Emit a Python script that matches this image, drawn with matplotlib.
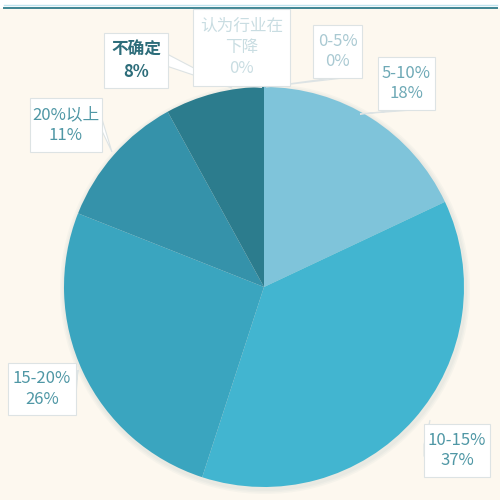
import numpy as np
import matplotlib.pyplot as plt
from matplotlib.patches import Rectangle, Polygon

plt.rcParams['font.family'] = ['Noto Sans CJK SC', 'DejaVu Sans']

# slices, clockwise from 12 o'clock
labels = ['0-5%', '5-10%', '10-15%', '15-20%', '20%以上', '不确定', '认为行业在\n下降']
values = [0, 18, 37, 26, 11, 8, 0]
colors = ['#7fc4da', '#7fc4da', '#42b5d0', '#3aa5bf', '#3592aa', '#2c7c8d', '#2c7c8d']

# label boxes (pixel coords: x0, y0, x1, y1), text colour, pointer tip
boxes = [(313, 25, 362, 78), (378, 57, 435, 110), (424, 424, 490, 477),
         (8, 363, 76, 415), (30, 98, 102, 152), (104, 33, 168, 88), (193, 9, 290, 86)]
text_colors = ['#a9c9d2', '#6ea9b6', '#4f97a5', '#4f97a5', '#4f97a5', '#2d6d7a', '#c9dde2']
tips = [(266, 87), (360, 114), (430, 420), (78, 370), (112, 152), (232, 88), (262, 87)]

H = 500
fig = plt.figure(figsize=(5, 5), dpi=100)
fig.patch.set_facecolor('#fdf8ef')
ax = fig.add_axes([0, 0, 1, 1])
ax.set_xlim(0, 500)
ax.set_ylim(0, 500)
ax.set_aspect('equal')
ax.axis('off')

# white strip and rule at top
ax.add_patch(Rectangle((0, H - 8), 500, 8, facecolor='white', edgecolor='none'))
ax.plot([4, 497], [H - 5, H - 5], color='#bfe3ee', lw=1)
ax.plot([4, 497], [H - 8, H - 8], color='#3e8593', lw=1.4)

cx, cy, r = 264, H - 287, 200
# soft shadow
for k in range(3):
    ax.add_patch(plt.Circle((cx + 1, cy - 2), r + 2 + k * 1.5, color='#7a9aa0', alpha=0.05, lw=0))
ax.pie(values, colors=colors, startangle=90, counterclock=False, center=(cx, cy),
       radius=r, wedgeprops=dict(linewidth=0), frame=True)
ax.set_xlim(0, 500)
ax.set_ylim(0, 500)
ax.axis('off')

for lab, v, (x0, y0, x1, y1), tc, (tx, ty) in zip(labels, values, boxes, text_colors, tips):
    # pointer
    mx = (x0 + x1) / 2
    by = y1 if ty > y1 else (y0 + y1) / 2
    bx = mx if ty > y1 else (x1 if tx > x1 else x0)
    if ty > y1:
        base = [(bx - 6, H - y1), (bx + 6, H - y1)]
    else:
        base = [(bx, H - by + 6), (bx, H - by - 6)]
    ax.add_patch(Polygon(base + [(tx, H - ty)], closed=True, facecolor='white',
                         edgecolor='#dde3e4', lw=0.8, zorder=4))
    ax.add_patch(Rectangle((x0, H - y1), x1 - x0, y1 - y0, facecolor='white',
                           edgecolor='#dde3e4', lw=0.8, zorder=5))
    ax.add_patch(Polygon(base + [(bx, H - by)], closed=True, facecolor='white',
                         edgecolor='none', zorder=6))
    bold = 'bold' if lab == '不确定' else 'normal'
    ax.text((x0 + x1) / 2, H - (y0 + y1) / 2, f'{lab}\n{v}%', ha='center', va='center',
            fontsize=12, color=tc, linespacing=1.3, fontweight=bold, zorder=7)

fig.savefig('out.png', dpi=100, facecolor=fig.get_facecolor())
